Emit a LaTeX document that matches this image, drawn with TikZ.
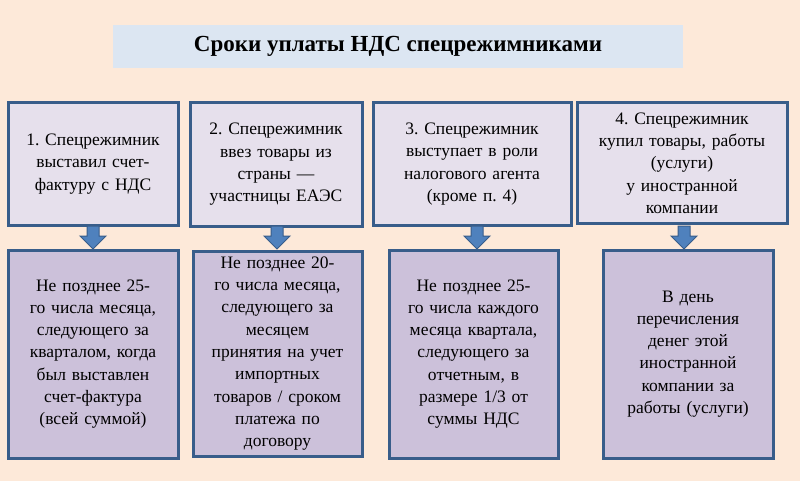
\documentclass[tikz,border=0pt]{standalone}
\usepackage{fontspec}
\setmainfont{Liberation Serif}
\frenchspacing
\begin{document}
\begin{tikzpicture}[x=1pt,y=-1pt,
  bx/.style={draw=bordc,line width=3pt,align=center,inner sep=0pt,font=\fontsize{17.5}{22.3}\selectfont},
  topb/.style={bx,fill=topc},
  botb/.style={bx,fill=botc},
  arr/.style={fill=arrc,draw=bordc,line width=1pt}]
\definecolor{bgc}{HTML}{FDE9D9}
\definecolor{titc}{HTML}{DCE6F2}
\definecolor{topc}{HTML}{E6E0EC}
\definecolor{botc}{HTML}{CCC1DA}
\definecolor{bordc}{HTML}{385D8A}
\definecolor{arrc}{HTML}{4F81BD}
\fill[bgc] (0,0) rectangle (800,481);
\useasboundingbox (0,0) rectangle (800,481);
\node[fill=titc,minimum width=570pt,minimum height=43pt,inner sep=0pt,font=\fontsize{23}{26}\selectfont\bfseries] (title) at (398,46.5) {Сроки уплаты НДС спецрежимниками};
\node[topb,minimum width=170pt,minimum height=122pt,text width=166pt] (t1) at (93,164) {1. Спецрежимник\\выставил счет-\\фактуру с НДС};
\node[topb,minimum width=172pt,minimum height=123pt,text width=168pt] (t2) at (276,164.5) {2. Спецрежимник\\ввез товары из\\страны —\\участницы ЕАЭС};
\node[topb,minimum width=198pt,minimum height=122pt,text width=190pt] (t3) at (472,164) {3. Спецрежимник\\выступает в роли\\налогового агента\\(кроме п. 4)};
\node[topb,minimum width=210pt,minimum height=120pt,text width=206pt] (t4) at (682,163) {4. Спецрежимник\\купил товары, работы\\(услуги)\\у иностранной\\компании};
\node[botb,minimum width=170pt,minimum height=208pt,text width=166pt] (b1) at (93,354) {Не позднее 25-\\го числа месяца,\\следующего за\\кварталом, когда\\был выставлен\\счет-фактура\\(всей суммой)};
\node[botb,minimum width=169pt,minimum height=205pt,text width=166pt] (b2) at (277.5,353.5) {Не позднее 20-\\го числа месяца,\\следующего за\\месяцем\\принятия на учет\\импортных\\товаров / сроком\\платежа по\\договору};
\node[botb,minimum width=169pt,minimum height=208pt,text width=166pt] (b3) at (473.5,354) {Не позднее 25-\\го числа каждого\\месяца квартала,\\следующего за\\отчетным, в\\размере 1/3 от\\суммы НДС};
\node[botb,minimum width=170pt,minimum height=208pt,text width=166pt] (b4) at (688,354) {В день\\перечисления\\денег этой\\иностранной\\компании за\\работы (услуги)};
\foreach \a/\b/\x in {t1/b1/93,t2/b2/277,t3/b3/477,t4/b4/684}{
  \draw[arr] (\x-6,226) -- (\x+6,226) -- (\x+6,236) -- (\x+13,236) -- (\x,249) -- (\x-13,236) -- (\x-6,236) -- cycle;
}
\end{tikzpicture}
\end{document}
